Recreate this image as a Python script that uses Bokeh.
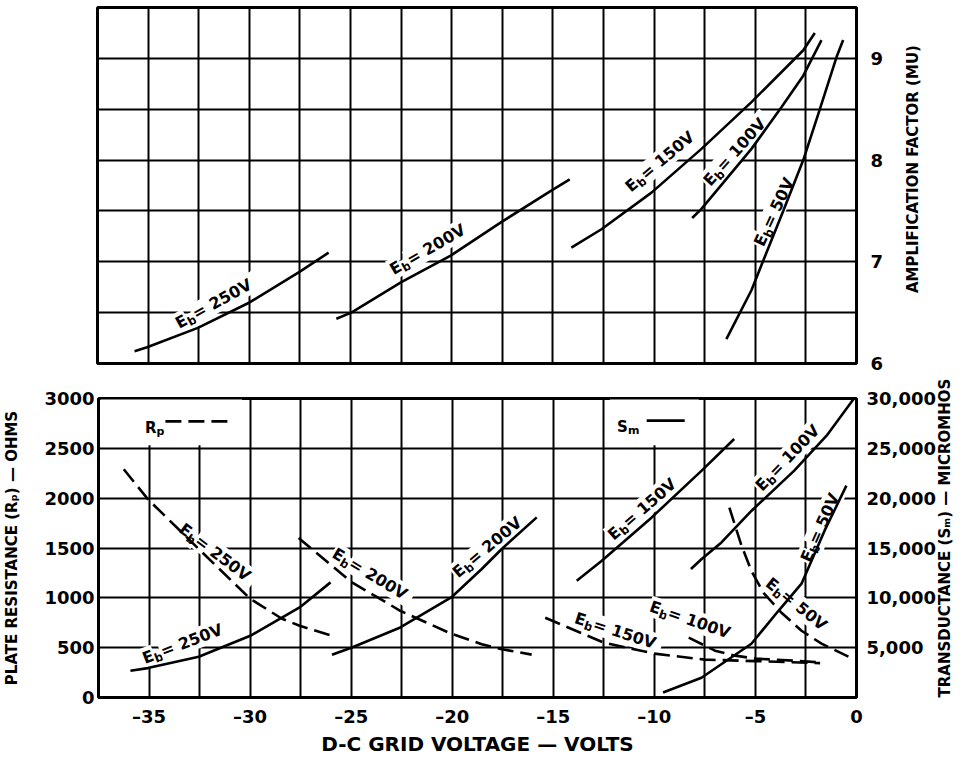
import math
from bokeh.plotting import figure
from bokeh.models import (Range1d, LinearAxis, FixedTicker, NumeralTickFormatter,
                          Grid, ColumnDataSource)
from bokeh.layouts import column, row
from bokeh.embed import file_html
from bokeh.resources import INLINE
from bokeh.core.properties import value

FONT = "DejaVu Sans"

# ---------------- data ----------------
# Amplification factor (MU) vs d-c grid voltage
mu_250_v = [-35.67, -35.05, -32.54, -29.99, -27.52, -26.08]
mu_250 = [6.12, 6.16, 6.35, 6.60, 6.90, 7.09]
mu_200_v = [-25.70, -24.96, -22.49, -20.05, -17.55, -15.08, -14.17]
mu_200 = [6.44, 6.50, 6.80, 7.06, 7.39, 7.70, 7.81]
mu_150_v = [-14.09, -12.60, -10.13, -7.66, -5.19, -2.63, -2.06]
mu_150 = [7.14, 7.32, 7.68, 8.11, 8.57, 9.08, 9.25]
mu_100_v = [-8.12, -7.66, -5.19, -3.71, -2.63, -1.73]
mu_100 = [7.43, 7.52, 8.11, 8.52, 8.83, 9.18]
mu_50_v = [-6.43, -5.19, -4.61, -3.62, -2.63, -1.81, -0.99, -0.66]
mu_50 = [6.24, 6.72, 7.01, 7.50, 8.00, 8.50, 9.01, 9.18]

# Plate resistance Rp (ohms)
rp_250_v = [-36.25, -35.06, -32.54, -29.99, -28.42, -27.55, -25.95]
rp_250 = [2290, 1990, 1490, 990, 790, 720, 620]
rp_200_v = [-27.60, -24.96, -22.57, -20.05, -18.54, -17.55, -16.07]
rp_200 = [1600, 1155, 870, 640, 535, 485, 430]
rp_150_v = [-15.40, -12.50, -10.00, -7.50, -5.00, -1.80]
rp_150 = [800, 550, 440, 380, 365, 345]
rp_100_v = [-8.30, -7.00, -6.00, -5.00, -3.00, -2.00]
rp_100 = [600, 470, 420, 390, 368, 355]
rp_50_v = [-6.29, -5.69, -5.20, -4.60, -3.71, -2.72, -1.73, -0.40]
rp_50 = [1905, 1525, 1270, 1050, 850, 670, 540, 410]

# Transconductance Sm (micromhos)
sm_250_v = [-35.92, -35.06, -32.54, -29.99, -27.55, -26.02]
sm_250 = [2680, 2950, 4090, 6190, 9040, 11550]
sm_200_v = [-25.95, -24.96, -22.57, -20.05, -18.54, -17.55, -15.82]
sm_200 = [4290, 5020, 7030, 10040, 12890, 14900, 18070]
sm_150_v = [-13.84, -12.60, -10.13, -7.66, -6.05]
sm_150 = [11720, 13720, 18070, 22760, 25940]
sm_100_v = [-8.19, -7.66, -6.68, -5.19, -3.08, -1.48, -0.08]
sm_100 = [12890, 13890, 15560, 18740, 22760, 26270, 30120]
sm_50_v = [-9.57, -7.67, -5.20, -3.86, -2.72, -1.58, -0.50]
sm_50 = [500, 1980, 5390, 8700, 11420, 16740, 21260]

# ticks
x_ticks = [-35, -30, -25, -20, -15, -10, -5, 0]
x_tick_labels = ["\u201335", "\u201330", "\u201325", "\u201320", "\u201315",
                 "\u201310", "\u20135", "0"]
x_grid = [-37.5 + 2.5 * i for i in range(16)]
mu_ticks = [6, 7, 8, 9]
mu_grid = [6 + 0.5 * i for i in range(8)]
rp_ticks = [0, 500, 1000, 1500, 2000, 2500, 3000]
sm_ticks = [5000, 10000, 15000, 20000, 25000, 30000]

# curve labels: (voltage text, centre x, centre y, angle in degrees)
top_labels = [("250V", -31.83, 6.646, 29), ("200V", -21.26, 7.18, 30),
              ("150V", -9.84, 8.04, 40), ("100V", -6.18, 8.13, 48),
              ("50V", -4.30, 7.53, 65)]
bottom_labels = [("250V", -33.37, 600, 21), ("250V", -31.49, 1493, -37),
                 ("200V", -23.85, 1282, -31), ("200V", -18.39, 1563, 40),
                 ("150V", -10.73, 1945, 41), ("100V", -3.56, 2457, 46),
                 ("50V", -2.03, 1744, 66), ("150V", -11.76, 720, -18),
                 ("100V", -8.06, 830, -19), ("50V", -2.72, 971, -39)]

# ---------------- helpers ----------------
ADV = {"E": 0.683, "b": 0.716, " ": 0.348, "=": 0.838, "V": 0.774, "R": 0.770,
       "p": 0.716, "S": 0.720, "m": 1.042}


def tw(s, fs):
    return sum(ADV.get(c, 0.696) for c in s) * fs


def label_source(specs, fs=16, sub=12):
    rows = dict(x=[], y=[], text=[], angle=[], dx=[], dy=[], size=[])
    for volts, cx, cy, ang in specs:
        pieces = [("E", fs, 0.0), ("b", sub, 0.28 * fs), (" = " + volts, fs, 0.0)]
        total = sum(tw(t, f) for t, f, _ in pieces)
        th = math.radians(ang)
        d = -total / 2.0
        for t, f, drop in pieces:
            s = 0.36 * fs + drop
            rows["x"].append(cx)
            rows["y"].append(cy)
            rows["text"].append(t)
            rows["angle"].append(th)
            rows["dx"].append(d * math.cos(th) + s * math.sin(th))
            rows["dy"].append(-d * math.sin(th) + s * math.cos(th))
            rows["size"].append(f"{f}px")
            d += tw(t, f)
    return ColumnDataSource(rows)


def add_labels(p, specs):
    p.text(x="x", y="y", text="text", angle="angle", x_offset="dx", y_offset="dy",
           text_font_size="size", source=label_source(specs),
           text_font=value(FONT), text_font_style="bold", text_color="black",
           text_align="left", text_baseline="alphabetic",
           background_fill_color="white", padding=1)


def style_axis(ax, size="18px"):
    ax.axis_line_color = None
    ax.major_tick_line_color = None
    ax.minor_tick_line_color = None
    ax.major_tick_in = 0
    ax.major_tick_out = 0
    ax.major_label_text_font = FONT
    ax.major_label_text_font_style = "bold"
    ax.major_label_text_font_size = size
    ax.major_label_text_color = "black"
    ax.axis_label_text_font = FONT
    ax.axis_label_text_font_style = "bold"
    ax.axis_label_text_font_size = "15px"
    ax.axis_label_text_color = "black"


def add_grids(p, yticks):
    p.grid.visible = False
    p.add_layout(Grid(dimension=0, ticker=FixedTicker(ticks=x_grid),
                      grid_line_color="black", grid_line_width=2), "center")
    p.add_layout(Grid(dimension=1, ticker=FixedTicker(ticks=yticks),
                      grid_line_color="black", grid_line_width=2), "center")


def side_strip(width, height, text, tx, ty):
    """Narrow strip holding a rotated axis title that reads bottom-to-top."""
    s = figure(width=width, height=height, x_range=Range1d(0, width),
               y_range=Range1d(0, height), x_axis_location=None,
               y_axis_location=None, output_backend="svg", toolbar_location=None,
               min_border=0, outline_line_color=None)
    s.grid.visible = False
    s.text(x=[tx], y=[ty], text=[text], angle=math.pi / 2,
           text_font=value(FONT), text_font_style="bold", text_font_size="15px",
           text_color="black", text_align="center", text_baseline="middle")
    return s


LW = 2.6
DASH = "16 7"
BL = 97
FRAME_W = 759
TOP_H, BOT_H = 379, 379

x_range = Range1d(-37.5, 0)

# ---------------- top: amplification factor ----------------
TOP_W = 905
top = figure(width=TOP_W, height=TOP_H, x_range=x_range, y_range=Range1d(6, 9.5),
             y_axis_location="right", output_backend="svg", toolbar_location=None,
             min_border_left=BL, min_border_right=TOP_W - BL - FRAME_W,
             min_border_top=7, min_border_bottom=16)
top.xaxis.visible = False
add_grids(top, mu_grid)
top.outline_line_color = "black"
top.outline_line_width = 3
ya = top.yaxis[0]
ya.ticker = FixedTicker(ticks=mu_ticks)
style_axis(ya)
ya.major_label_standoff = 14

add_labels(top, top_labels)
for xs, ys in [(mu_250_v, mu_250), (mu_200_v, mu_200), (mu_150_v, mu_150),
               (mu_100_v, mu_100), (mu_50_v, mu_50)]:
    top.line(xs, ys, line_color="black", line_width=LW)

top_side = side_strip(965 - TOP_W, TOP_H, "AMPLIFICATION FACTOR (MU)", 7, TOP_H - 172)

# ---------------- bottom: Rp and Sm ----------------
BOT_W = 965
bot = figure(width=BOT_W, height=BOT_H, x_range=x_range, y_range=Range1d(0, 3000),
             output_backend="svg", toolbar_location=None,
             min_border_left=BL, min_border_right=BOT_W - BL - FRAME_W,
             min_border_top=19, min_border_bottom=58)
bot.extra_y_ranges = {"sm": Range1d(0, 30000)}
add_grids(bot, rp_ticks)
bot.outline_line_color = "black"
bot.outline_line_width = 3

xa = bot.xaxis[0]
xa.ticker = FixedTicker(ticks=x_ticks)
xa.major_label_overrides = {t: s for t, s in zip(x_ticks, x_tick_labels)}
style_axis(xa)
xa.major_label_standoff = 8
xa.axis_label = "D-C GRID VOLTAGE \u2014 VOLTS"
xa.axis_label_text_font_size = "20px"
xa.axis_label_standoff = 2

la = bot.yaxis[0]
la.ticker = FixedTicker(ticks=rp_ticks)
style_axis(la)
la.major_label_standoff = 4
la.axis_label = "PLATE RESISTANCE (R\u209a) \u2014 OHMS"
la.axis_label_standoff = 20

ra = LinearAxis(y_range_name="sm", ticker=FixedTicker(ticks=sm_ticks),
                formatter=NumeralTickFormatter(format="0,0"))
style_axis(ra)
ra.major_label_standoff = 10
ra.axis_label = "TRANSDUCTANCE (S\u2098) \u2014 MICROMHOS"
ra.axis_label_orientation = math.pi / 2
ra.axis_label_align = "start"
ra.axis_label_standoff = 6
bot.add_layout(ra, "right")

# legend boxes (white patches over the grid) and legend entries
bot.quad(left=[-37.4, -12.2], right=[-30.4, -7.8], bottom=[2530, 2530],
         top=[2990, 2990], fill_color="white", line_color=None)
bot.text(x=[-35.2, -35.2 + 0.57, -11.85, -11.85 + 0.54],
         y=[2705, 2705, 2715, 2715], text=["R", "p", "S", "m"],
         x_offset=[0, 0, 0, 0], y_offset=[0, 4, 0, 4],
         text_font_size=["15px", "11px", "15px", "11px"],
         text_font=value(FONT), text_font_style="bold",
         text_align="left", text_baseline="alphabetic")
bot.line([-34.19, -31.09], [2770, 2770], line_color="black", line_width=LW,
         line_dash=DASH)
bot.line([-10.38, -8.50], [2778, 2778], line_color="black", line_width=LW)

add_labels(bot, bottom_labels)

for xs, ys in [(rp_250_v, rp_250), (rp_200_v, rp_200), (rp_150_v, rp_150),
               (rp_100_v, rp_100), (rp_50_v, rp_50)]:
    bot.line(xs, ys, line_color="black", line_width=LW, line_dash=DASH)
for xs, ys in [(sm_250_v, sm_250), (sm_200_v, sm_200), (sm_150_v, sm_150),
               (sm_100_v, sm_100), (sm_50_v, sm_50)]:
    bot.line(xs, ys, line_color="black", line_width=LW, y_range_name="sm")

layout = column(row(top, top_side, spacing=0), bot, spacing=0)
open("out.html", "w").write(file_html(layout, INLINE))
